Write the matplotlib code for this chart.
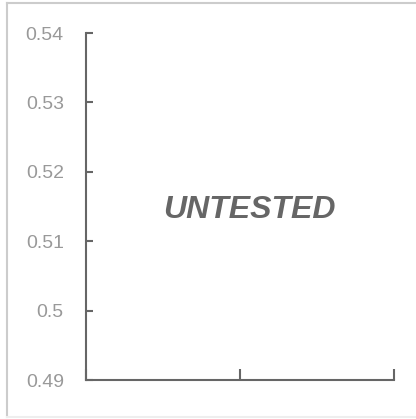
import matplotlib
matplotlib.use("Agg")
import matplotlib.pyplot as plt
from matplotlib.lines import Line2D

# Empty placeholder chart: axes only, no series
y_ticks = [0.49, 0.50, 0.51, 0.52, 0.53, 0.54]
y_labels = ["0.49", "0.5", "0.51", "0.52", "0.53", "0.54"]
x_ticks = [0, 1, 2]
overlay_text = "UNTESTED"

plt.rcParams['font.family'] = ['Liberation Sans', 'DejaVu Sans']

fig = plt.figure(figsize=(4.16, 4.19), dpi=100)
ax = fig.add_axes([86 / 416, 1 - 380 / 419, 308 / 416, 347 / 419])

ax.set_xlim(x_ticks[0], x_ticks[-1])
ax.set_ylim(y_ticks[0], y_ticks[-1])
ax.set_xticks(x_ticks)
ax.set_xticklabels([])
ax.set_yticks(y_ticks)
ax.set_yticklabels(y_labels)

for side in ['top', 'right']:
    ax.spines[side].set_visible(False)
for side in ['left', 'bottom']:
    ax.spines[side].set_color('#666666')
    ax.spines[side].set_linewidth(1.5)

ax.tick_params(axis='x', direction='in', length=8, width=1.5, color='#666666')
ax.tick_params(axis='y', direction='in', length=5, width=1.5, color='#666666',
               labelcolor='#999999', labelsize=14, pad=16)

ax.text(0.53, 0.49, overlay_text, transform=ax.transAxes, ha='center', va='center',
        fontsize=23, fontweight='bold', fontstyle='italic', color='#666666')

# light frame around the card
fig.add_artist(Line2D([7 / 416, 1], [1 - 3 / 419, 1 - 3 / 419], transform=fig.transFigure,
                      color='#cccccc', linewidth=1.5))
fig.add_artist(Line2D([7 / 416, 7 / 416], [1 - 3 / 419, 1 - 417 / 419], transform=fig.transFigure,
                      color='#cccccc', linewidth=1.5))
fig.add_artist(Line2D([7 / 416, 1], [1 - 417 / 419, 1 - 417 / 419], transform=fig.transFigure,
                      color='#eeeeee', linewidth=1.5))

fig.savefig('out.png', dpi=100)
